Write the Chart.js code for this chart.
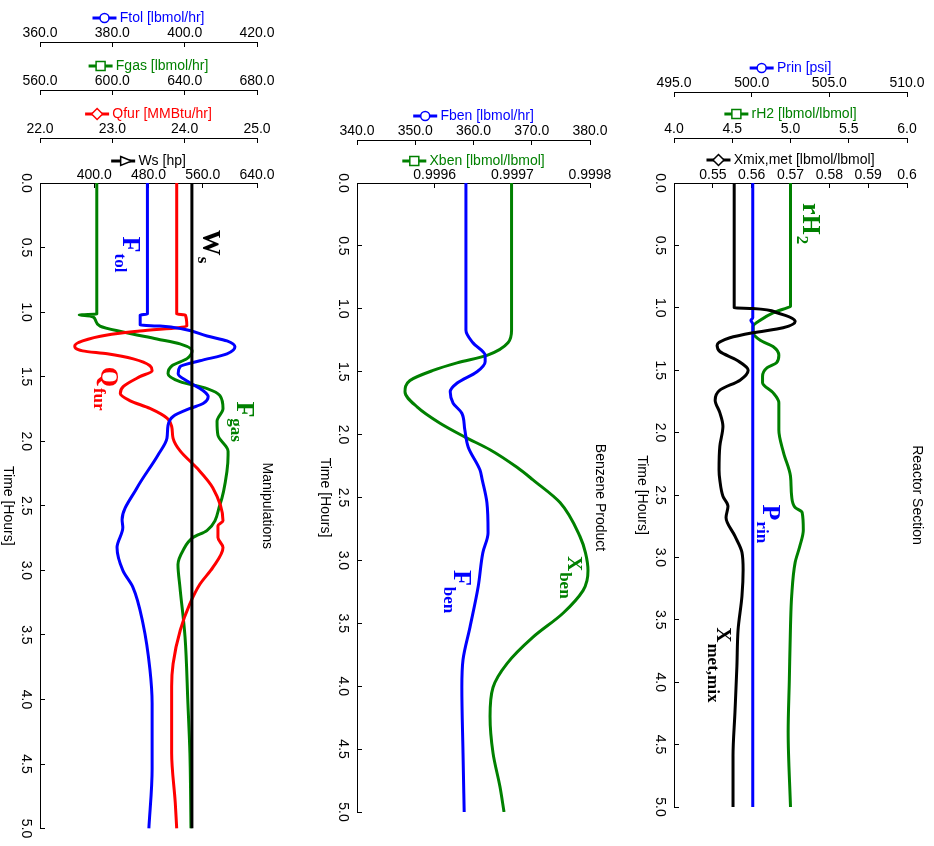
<!DOCTYPE html>
<html>

<head>
  <title>Process response</title>
  <script src="https://cdn.jsdelivr.net/npm/chart.js"></script>
  <style>
    body { margin: 0; background: #fff; }
    canvas { position: absolute; top: 0; }
  </style>
</head>

<body>
  <canvas id="chartManip" width="300" height="846" style="left:0px"></canvas>
  <canvas id="chartBenzene" width="320" height="846" style="left:300px"></canvas>
  <canvas id="chartReactor" width="314" height="846" style="left:620px"></canvas>
  <script>

    // time axis (shared by all three panels)
    let timeTicks = [0, 0.5, 1, 1.5, 2, 2.5, 3, 3.5, 4, 4.5, 5];
    let timeTickLabels = ['0.0', '0.5', '1.0', '1.5', '2.0', '2.5', '3.0', '3.5', '4.0', '4.5', '5.0'];

    // --- Manipulations ---
    let ftolTicks = [360, 380, 400, 420];
    let ftolTickLabels = ['360.0', '380.0', '400.0', '420.0'];
    let fgasTicks = [560, 600, 640, 680];
    let fgasTickLabels = ['560.0', '600.0', '640.0', '680.0'];
    let qfurTicks = [22, 23, 24, 25];
    let qfurTickLabels = ['22.0', '23.0', '24.0', '25.0'];
    let wsTicks = [320, 400, 480, 560, 640];
    let wsTickLabels = ['', '400.0', '480.0', '560.0', '640.0'];

    let wsTime = [0, 5];
    let wsValues = [544, 544];

    let ftolTime = [0, 1.015, 1.023, 1.10, 1.108, 1.131, 1.185, 1.223, 1.269, 1.323, 1.377, 1.423, 1.477, 1.538, 1.608, 1.654, 1.708, 1.746, 1.808, 1.877, 1.977, 2.108, 2.362, 2.608, 2.669, 2.823, 3.0, 3.131, 3.415, 3.769, 4.03, 4.538, 5.0];
    let ftolValues = [389.7, 389.7, 387.7, 387.7, 393.2, 399.5, 406.2, 411.7, 413.9, 411.7, 404.2, 398.7, 398.2, 400.9, 405.1, 406.5, 405.1, 401.5, 396.8, 395.4, 395.1, 392.6, 386.8, 382.7, 382.9, 381.3, 382.9, 385.7, 388.5, 390.4, 391.0, 391.0, 390.1];

    let qfurTime = [0, 1.015, 1.023, 1.108, 1.146, 1.177, 1.223, 1.262, 1.30, 1.323, 1.362, 1.415, 1.454, 1.50, 1.577, 1.631, 1.685, 1.746, 1.823, 1.885, 1.977, 2.077, 2.208, 2.362, 2.615, 2.654, 2.746, 2.823, 2.977, 3.108, 3.262, 3.462, 3.723, 3.90, 4.415, 4.80, 5.0];
    let qfurValues = [23.89, 23.89, 24.01, 24.03, 23.38, 22.93, 22.59, 22.48, 22.59, 22.93, 23.29, 23.52, 23.55, 23.38, 23.15, 23.11, 23.24, 23.52, 23.76, 23.82, 23.84, 23.94, 24.17, 24.39, 24.53, 24.46, 24.46, 24.53, 24.39, 24.21, 24.07, 23.94, 23.84, 23.82, 23.82, 23.87, 23.89];

    let fgasTime = [0, 1.015, 1.023, 1.03, 1.054, 1.108, 1.154, 1.208, 1.246, 1.30, 1.36, 1.415, 1.477, 1.538, 1.592, 1.646, 1.746, 1.846, 1.954, 2.077, 2.108, 2.231, 2.492, 2.692, 2.746, 2.846, 2.954, 3.131, 3.515, 4.031, 4.415, 5.0];
    let fgasValues = [591.4, 591.4, 581.7, 587.7, 590.4, 593.2, 605.9, 624.7, 637.4, 644.1, 641.3, 633.0, 630.8, 637.4, 652.4, 659.5, 661.2, 657.9, 658.4, 664.0, 664.0, 663.4, 659.5, 652.3, 644.6, 639.1, 636.3, 637.4, 640.2, 641.8, 642.9, 643.5];

    // --- Benzene Product ---
    let fbenTicks = [340, 350, 360, 370, 380];
    let fbenTickLabels = ['340.0', '350.0', '360.0', '370.0', '380.0'];
    let xbenTicks = [0.9995, 0.9996, 0.9997, 0.9998];
    let xbenTickLabels = ['', '0.9996', '0.9997', '0.9998'];

    let fbenTime = [0, 1.17, 1.27, 1.37, 1.42, 1.50, 1.59, 1.66, 1.75, 1.83, 1.96, 2.10, 2.28, 2.36, 2.54, 2.78, 2.94, 3.21, 3.53, 3.79, 4.01, 4.53, 5.0];
    let fbenValues = [358.7, 358.7, 359.9, 362.0, 362.0, 360.6, 357.2, 356.0, 356.5, 358.0, 358.5, 359.1, 361.1, 361.5, 362.3, 362.5, 361.6, 360.8, 359.4, 358.2, 358.0, 358.2, 358.4];

    let xbenTime = [0, 1.17, 1.27, 1.37, 1.43, 1.49, 1.57, 1.66, 1.78, 1.91, 2.02, 2.12, 2.26, 2.36, 2.54, 2.81, 2.94, 3.08, 3.16, 3.24, 3.42, 3.61, 3.82, 4.01, 4.24, 4.53, 4.80, 5.0];
    let xbenValues = [0.999699, 0.999699, 0.9996944, 0.9996674, 0.9996288, 0.9995979, 0.9995682, 0.9995618, 0.9995773, 0.9996069, 0.9996391, 0.9996713, 0.999706, 0.9997266, 0.9997614, 0.9997871, 0.9997942, 0.9997974, 0.9997961, 0.999791, 0.9997652, 0.9997266, 0.9996931, 0.9996751, 0.9996713, 0.9996751, 0.9996841, 0.9996893];

    // --- Reactor Section ---
    let prinTicks = [495, 500, 505, 510];
    let prinTickLabels = ['495.0', '500.0', '505.0', '510.0'];
    let rh2Ticks = [4, 4.5, 5, 5.5, 6];
    let rh2TickLabels = ['4.0', '4.5', '5.0', '5.5', '6.0'];
    let xmixTicks = [0.54, 0.55, 0.56, 0.57, 0.58, 0.59, 0.6];
    let xmixTickLabels = ['', '0.55', '0.56', '0.57', '0.58', '0.59', '0.6'];

    let prinTime = [0, 1.08, 1.10, 1.13, 5.0];
    let prinValues = [500.07, 500.07, 499.95, 500.07, 500.07];

    let rh2Time = [0, 0.99, 1.00, 1.04, 1.10, 1.15, 1.20, 1.26, 1.31, 1.38, 1.44, 1.48, 1.55, 1.60, 1.68, 1.76, 1.98, 2.16, 2.35, 2.51, 2.60, 2.64, 2.78, 2.91, 3.04, 3.31, 3.55, 3.98, 4.40, 5.0];
    let rh2Values = [5.00, 5.00, 4.97, 4.85, 4.74, 4.68, 4.68, 4.74, 4.85, 4.90, 4.88, 4.80, 4.76, 4.76, 4.85, 4.90, 4.90, 4.94, 5.00, 5.01, 5.04, 5.10, 5.11, 5.08, 5.04, 5.01, 5.00, 4.99, 4.98, 5.00];

    let xmixTime = [0, 1.0, 1.005, 1.04, 1.11, 1.16, 1.20, 1.24, 1.30, 1.35, 1.42, 1.50, 1.58, 1.66, 1.74, 1.84, 1.95, 2.11, 2.30, 2.38, 2.51, 2.59, 2.68, 2.83, 2.96, 3.10, 3.31, 3.58, 3.87, 4.24, 4.59, 5.0];
    let xmixValues = [0.5555, 0.5555, 0.5603, 0.5665, 0.5712, 0.5681, 0.5603, 0.5544, 0.5511, 0.5518, 0.5562, 0.5591, 0.5570, 0.5518, 0.5506, 0.5518, 0.5526, 0.5518, 0.5516, 0.5518, 0.5526, 0.5539, 0.5534, 0.5557, 0.5575, 0.5578, 0.5575, 0.5565, 0.5562, 0.5557, 0.5552, 0.5552];


    const BLUE = '#0000ff', GREEN = '#008000', RED = '#ff0000', BLACK = '#000000';

    Chart.defaults.font.family = '"Liberation Sans", Arial, sans-serif';
    Chart.defaults.font.size = 14;
    Chart.defaults.color = '#000';
    Chart.defaults.animation = false;

    function points(time, values) {
      return time.map((t, i) => ({ x: values[i], y: t }));
    }

    function series(time, values, color, axis) {
      return {
        data: points(time, values),
        xAxisID: axis,
        yAxisID: 'y',
        borderColor: color,
        borderWidth: 3,
        pointRadius: 0,
        cubicInterpolationMode: 'monotone',
        borderJoinStyle: 'round'
      };
    }

    function topAxis(min, max, ticks, labels, title, color, weight, height, titlePad, labelPad) {
      return {
        type: 'linear',
        position: 'top',
        min: min,
        max: max,
        weight: weight,
        afterBuildTicks: s => { s.ticks = ticks.map(v => ({ value: v })); },
        afterFit: s => { s.height = height; },
        grid: { drawOnChartArea: false, tickLength: -5, color: '#000' },
        border: { color: '#000' },
        ticks: { autoSkip: false, maxRotation: 0, padding: labelPad, callback: (v, i) => labels[i] },
        title: { display: true, text: '       ' + title, color: color, padding: { top: titlePad, bottom: 0 } }
      };
    }

    function timeAxis(width) {
      return {
        type: 'linear',
        position: 'left',
        reverse: true,
        min: 0,
        max: 5,
        afterBuildTicks: s => { s.ticks = timeTicks.map(v => ({ value: v })); },
        afterFit: s => { s.width = width; },
        grid: { drawOnChartArea: false, tickLength: -5, color: '#000' },
        border: { color: '#000' },
        ticks: { autoSkip: false, minRotation: -90, maxRotation: -90, crossAlign: 'center', padding: 9, callback: (v, i) => timeTickLabels[i] }
      };
    }

    function drawSymbol(ctx, x0, y, shape, color) {
      ctx.save();
      ctx.strokeStyle = color;
      ctx.lineWidth = 3;
      ctx.beginPath();
      ctx.moveTo(x0, y);
      ctx.lineTo(x0 + 24, y);
      ctx.stroke();
      ctx.fillStyle = '#fff';
      ctx.lineWidth = 1.5;
      let cx = x0 + 12, r = 4.5;
      ctx.beginPath();
      if (shape === 'circle') {
        ctx.arc(cx, y, r, 0, Math.PI * 2);
      } else if (shape === 'square') {
        ctx.rect(cx - r, y - r, 2 * r, 2 * r);
      } else if (shape === 'diamond') {
        ctx.moveTo(cx, y - r - 1); ctx.lineTo(cx + r + 1, y); ctx.lineTo(cx, y + r + 1); ctx.lineTo(cx - r - 1, y); ctx.closePath();
      } else {
        cx += 2;
        ctx.moveTo(cx - r, y - r); ctx.lineTo(cx + r + 2, y); ctx.lineTo(cx - r, y + r); ctx.closePath();
      }
      ctx.fill();
      ctx.stroke();
      ctx.restore();
    }

    function rotatedText(ctx, text, x, y) {
      ctx.save();
      ctx.translate(x, y);
      ctx.rotate(Math.PI / 2);
      ctx.textAlign = 'center';
      ctx.textBaseline = 'middle';
      ctx.fillText(text, 0, 0);
      ctx.restore();
    }

    // axis legend symbols, rotated titles and curve labels
    const decor = {
      id: 'decor',
      afterDraw(chart, args, opts) {
        const ctx = chart.ctx;
        const area = chart.chartArea;
        const mid = (area.top + area.bottom) / 2;

        for (const id in opts.symbols) {
          const s = chart.scales[id];
          const t = s.options.title;
          const font = Chart.helpers.toFont(t.font);
          const pad = Chart.helpers.toPadding(t.padding);
          ctx.save();
          ctx.font = font.string;
          const w = ctx.measureText(t.text).width;
          ctx.restore();
          const cx = (s.left + s.right) / 2;
          const cy = s.top + pad.top + font.lineHeight / 2;
          drawSymbol(ctx, cx - w / 2, cy, opts.symbols[id].shape, opts.symbols[id].color);
        }

        ctx.save();
        ctx.fillStyle = '#000';
        ctx.font = '14px "Liberation Sans", Arial, sans-serif';
        rotatedText(ctx, 'Time [Hours]', area.left - 32, mid);
        rotatedText(ctx, opts.title, area.right + 10, mid);
        ctx.restore();

        for (const a of opts.labels) {
          const x = chart.scales[a.axis].getPixelForValue(a.value);
          const y = chart.scales.y.getPixelForValue(a.time);
          ctx.save();
          ctx.translate(x, y);
          ctx.rotate(Math.PI / 2);
          ctx.fillStyle = a.color;
          ctx.textAlign = 'left';
          ctx.textBaseline = 'alphabetic';
          ctx.font = 'bold ' + a.size + 'px "Liberation Serif", "Times New Roman", serif';
          ctx.fillText(a.text, 0, 0);
          const w = ctx.measureText(a.text).width;
          ctx.font = 'bold 17px "Liberation Serif", "Times New Roman", serif';
          ctx.fillText(a.sub, w + 1, a.drop);
          ctx.restore();
        }
      }
    };

    function makeChart(id, datasets, scales, padding, decorOpts) {
      return new Chart(document.getElementById(id), {
        type: 'line',
        data: { datasets: datasets },
        options: {
          indexAxis: 'y',
          responsive: false,
          devicePixelRatio: 1,
          layout: { padding: padding },
          scales: scales,
          plugins: { legend: { display: false }, tooltip: { enabled: false }, decor: decorOpts }
        },
        plugins: [decor]
      });
    }

    makeChart('chartManip',
      [
        series(wsTime, wsValues, BLACK, 'ws'),
        series(ftolTime, ftolValues, BLUE, 'ftol'),
        series(qfurTime, qfurValues, RED, 'qfur'),
        series(fgasTime, fgasValues, GREEN, 'fgas')
      ],
      {
        ftol: topAxis(360, 420, ftolTicks, ftolTickLabels, 'Ftol [lbmol/hr]', BLUE, 4, 42, 9.6, 5),
        fgas: topAxis(560, 680, fgasTicks, fgasTickLabels, 'Fgas [lbmol/hr]', GREEN, 3, 48, 15.6, 5),
        qfur: topAxis(22, 25, qfurTicks, qfurTickLabels, 'Qfur [MMBtu/hr]', RED, 2, 48, 15.6, 5),
        ws: topAxis(320, 640, wsTicks, wsTickLabels, 'Ws [hp]', BLACK, 1, 45, 14.6, 4),
        y: timeAxis(40)
      },
      { top: 0, right: 43, bottom: 13, left: 0 },
      {
        title: 'Manipulations',
        symbols: {
          ftol: { shape: 'circle', color: BLUE },
          fgas: { shape: 'square', color: GREEN },
          qfur: { shape: 'diamond', color: RED },
          ws: { shape: 'triangle', color: BLACK }
        },
        labels: [
          { text: 'F', sub: 'tol', color: BLUE, axis: 'ftol', value: 382.95, time: 0.415, size: 26, drop: 8 },
          { text: 'W', sub: 's', color: BLACK, axis: 'ws', value: 560.3, time: 0.362, size: 26, drop: 5 },
          { text: 'Q', sub: 'fur', color: RED, axis: 'qfur', value: 22.84, time: 1.423, size: 26, drop: 7 },
          { text: 'F', sub: 'gas', color: GREEN, axis: 'fgas', value: 668.9, time: 1.692, size: 26, drop: 6 }
        ]
      });

    makeChart('chartBenzene',
      [
        series(fbenTime, fbenValues, BLUE, 'fben'),
        series(xbenTime, xbenValues, GREEN, 'xben')
      ],
      {
        fben: topAxis(340, 380, fbenTicks, fbenTickLabels, 'Fben [lbmol/hr]', BLUE, 2, 48, 15.6, 5),
        xben: topAxis(0.9995, 0.9998, xbenTicks, xbenTickLabels, 'Xben [lbmol/lbmol]', GREEN, 1, 43, 12.6, 4),
        y: timeAxis(57)
      },
      { top: 92, right: 30, bottom: 34, left: 0 },
      {
        title: 'Benzene Product',
        symbols: {
          fben: { shape: 'circle', color: BLUE },
          xben: { shape: 'square', color: GREEN }
        },
        labels: [
          { text: 'F', sub: 'ben', color: BLUE, axis: 'fben', value: 356.65, time: 3.076, size: 26, drop: 10 },
          { text: 'X', sub: 'ben', color: GREEN, axis: 'xben', value: 0.99977168, time: 2.965, size: 21, drop: 8 }
        ]
      });

    makeChart('chartReactor',
      [
        series(xmixTime, xmixValues, BLACK, 'xmix'),
        series(prinTime, prinValues, BLUE, 'prin'),
        series(rh2Time, rh2Values, GREEN, 'rh2')
      ],
      {
        prin: topAxis(495, 510, prinTicks, prinTickLabels, 'Prin [psi]', BLUE, 3, 48, 15.6, 5),
        rh2: topAxis(4, 6, rh2Ticks, rh2TickLabels, 'rH2 [lbmol/lbmol]', GREEN, 2, 46, 13.6, 5),
        xmix: topAxis(0.54, 0.6, xmixTicks, xmixTickLabels, 'Xmix,met [lbmol/lbmol]', BLACK, 1, 45, 13.6, 4),
        y: timeAxis(54)
      },
      { top: 44, right: 27, bottom: 39, left: 0 },
      {
        title: 'Reactor Section',
        symbols: {
          prin: { shape: 'circle', color: BLUE },
          rh2: { shape: 'square', color: GREEN },
          xmix: { shape: 'diamond', color: BLACK }
        },
        labels: [
          { text: 'rH', sub: '2', color: GREEN, axis: 'rh2', value: 5.107, time: 0.16, size: 26, drop: 6 },
          { text: 'P', sub: 'rin', color: BLUE, axis: 'prin', value: 500.73, time: 2.576, size: 26, drop: 6 },
          { text: 'X', sub: 'met,mix', color: BLACK, axis: 'xmix', value: 0.55107, time: 3.56, size: 21, drop: 9 }
        ]
      });

  </script>
</body>

</html>
